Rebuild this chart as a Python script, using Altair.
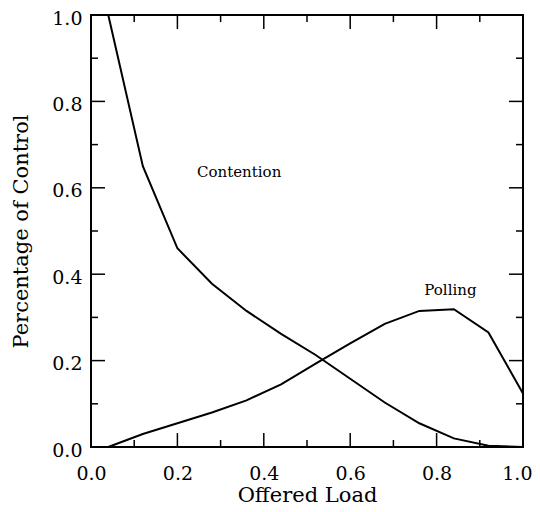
import altair as alt
import pandas as pd

# ---- data ----
load = [0.04, 0.12, 0.20, 0.28, 0.36, 0.44, 0.52, 0.60, 0.68, 0.76, 0.84, 0.92, 1.00]
contention = [1.0, 0.65, 0.46, 0.378, 0.315, 0.262, 0.213, 0.158, 0.103, 0.055, 0.02, 0.003, 0.0]
polling = [0.0, 0.03, 0.055, 0.08, 0.108, 0.145, 0.193, 0.24, 0.285, 0.315, 0.319, 0.265, 0.124]

label_text = ["Contention", "Polling"]
label_x = [0.343, 0.832]
label_y = [0.637, 0.363]

tick_labels = [0.0, 0.2, 0.4, 0.6, 0.8, 1.0]
major_ticks = [0.2, 0.4, 0.6, 0.8]
minor_ticks = [0.1, 0.3, 0.5, 0.7, 0.9]

FONT = "DejaVu Serif"
W = 432
H = 432
MAJ = 14
MIN = 7

rows = []
for x, c, p in zip(load, contention, polling):
    rows.append({"load": x, "value": c, "series": "Contention"})
    rows.append({"load": x, "value": p, "series": "Polling"})
df = pd.DataFrame(rows)

xscale = alt.Scale(domain=[0, 1], nice=False, zero=False)
yscale = alt.Scale(domain=[0, 1], nice=False, zero=False)

xaxis = alt.Axis(values=tick_labels, format=".1f", grid=False, domain=False,
                 ticks=False, tickSize=0, labelFlush=False, labelPadding=17,
                 labelAlign=alt.ExprRef("datum.value >= 1 ? 'right' : 'center'"),
                 labelOffset=alt.ExprRef("datum.value >= 1 ? 9 : 0"),
                 labelFont=FONT, labelFontSize=19, labelColor="black",
                 title="Offered Load", titleFont=FONT, titleFontSize=21,
                 titleFontWeight="normal", titleColor="black",
                 titleX=W / 2, titleY=54, titleAlign="center",
                 titleBaseline="alphabetic")
yaxis = alt.Axis(values=tick_labels, format=".1f", grid=False, domain=False,
                 ticks=False, tickSize=0, labelPadding=9, labelOffset=3,
                 labelFont=FONT, labelFontSize=19, labelColor="black",
                 title="Percentage of Control", titleFont=FONT, titleFontSize=21,
                 titleFontWeight="normal", titleColor="black",
                 titleAngle=-90, titleX=-64, titleY=H / 2, titleAlign="center",
                 titleBaseline="alphabetic")

lines = alt.Chart(df).mark_line(color="black", strokeWidth=2, clip=True).encode(
    x=alt.X("load:Q", scale=xscale, axis=xaxis, title="Offered Load"),
    y=alt.Y("value:Q", scale=yscale, axis=yaxis, title="Percentage of Control"),
    detail="series:N",
)

labels = alt.Chart(pd.DataFrame({"t": label_text, "x": label_x, "y": label_y})).mark_text(
    font=FONT, fontSize=15, color="black"
).encode(
    x=alt.X("x:Q", scale=xscale, axis=xaxis, title="Offered Load"),
    y=alt.Y("y:Q", scale=yscale, axis=yaxis, title="Percentage of Control"),
    text="t:N",
)

maj = pd.DataFrame({"v": major_ticks})
mnr = pd.DataFrame({"v": minor_ticks})


def xticks(d, length):
    top = alt.Chart(d).mark_rule(color="black", strokeWidth=1.5).encode(
        x=alt.X("v:Q", scale=xscale, axis=xaxis, title="Offered Load"),
        y=alt.value(0), y2=alt.value(length))
    bot = alt.Chart(d).mark_rule(color="black", strokeWidth=1.5).encode(
        x=alt.X("v:Q", scale=xscale, axis=xaxis, title="Offered Load"),
        y=alt.value(H), y2=alt.value(H - length))
    return [top, bot]


def yticks(d, length):
    left = alt.Chart(d).mark_rule(color="black", strokeWidth=1.5).encode(
        y=alt.Y("v:Q", scale=yscale, axis=yaxis, title="Percentage of Control"),
        x=alt.value(0), x2=alt.value(length))
    right = alt.Chart(d).mark_rule(color="black", strokeWidth=1.5).encode(
        y=alt.Y("v:Q", scale=yscale, axis=yaxis, title="Percentage of Control"),
        x=alt.value(W), x2=alt.value(W - length))
    return [left, right]


layers = [lines, labels] + xticks(maj, MAJ) + xticks(mnr, MIN) + yticks(maj, MAJ) + yticks(mnr, MIN)

chart = alt.layer(*layers).properties(
    width=W, height=H,
    autosize=alt.AutoSizeParams(type="none"),
    padding={"left": 83, "top": 7, "right": 9, "bottom": 61},
    background="white",
).configure_view(stroke="black", strokeWidth=2)

chart.save("out.html", embed_options={"renderer": "svg", "actions": False})
